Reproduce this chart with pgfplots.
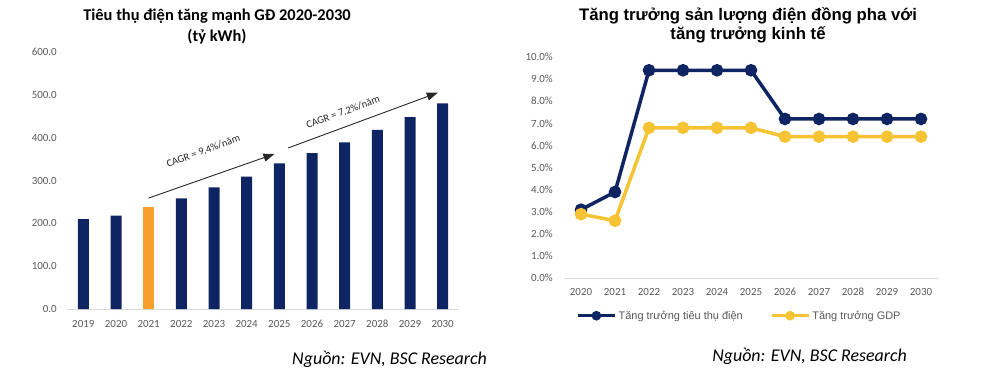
\documentclass[border=0pt]{standalone}
\usepackage{fontspec}
\setmainfont{Carlito}
\newfontfamily\arial{Liberation Sans}
\usepackage{pgfplots}
\pgfplotsset{compat=1.18}
\usetikzlibrary{arrows.meta}
\definecolor{navy}{HTML}{0F2463}
\definecolor{orng}{HTML}{F7A02B}
\definecolor{yell}{HTML}{F5C333}
\definecolor{tgray}{HTML}{595959}
\definecolor{lgray}{HTML}{D9D9D9}
\begin{document}
\begin{tikzpicture}[x=1bp,y=1bp]
\useasboundingbox (0,0) rectangle (1000,367);
% ---------------- Left chart ----------------
\begin{axis}[
  at={(67bp,58bp)}, anchor=south west, scale only axis,
  width=392bp, height=257bp,
  xmin=-0.5, xmax=11.5, ymin=0, ymax=600,
  axis x line*=bottom, axis y line*=left,
  x axis line style={draw=lgray, line width=1bp, -},
  y axis line style={draw=none},
  major tick length=0pt,
  xtick={0,...,11},
  xticklabels={2019,2020,2021,2022,2023,2024,2025,2026,2027,2028,2029,2030},
  ytick={0,100,...,600},
  yticklabel={\pgfmathprintnumber[fixed,fixed zerofill,precision=1]{\tick}},
  /pgf/number format/assume math mode=true,
  tick label style={font=\fontsize{11}{12}\selectfont, text=tgray},
  xticklabel style={anchor=base, yshift=-18.5bp, inner sep=0pt},
  yticklabel style={anchor=east, xshift=-10bp, inner sep=0pt},
  ybar, bar width=11bp, bar shift=0pt,
  clip=false,
]
\addplot[fill=navy, draw=none] coordinates {
  (0,210) (1,218) (3,258) (4,284) (5,309) (6,340) (7,364) (8,389) (9,418) (10,448) (11,480)};
\addplot[fill=orng, draw=none] coordinates {(2,238)};
\draw[-{Triangle[length=11bp,width=8bp]}, line width=0.9bp, black!85]
  (axis cs:2,259) -- (axis cs:5.85,362);
\draw[-{Triangle[length=11bp,width=8bp]}, line width=0.9bp, black!85]
  (axis cs:6.27,376) -- (axis cs:10.85,505);
\node[rotate=20, font=\fontsize{10.5}{12}\selectfont, text=black!85, inner sep=0pt]
  at (axis cs:3.67,369) {CAGR = 9.4\%/năm};
\node[rotate=20, font=\fontsize{10.5}{12}\selectfont, text=black!85, inner sep=0pt]
  at (axis cs:7.95,460) {CAGR = 7.2\%/năm};
\end{axis}
\node[font=\bfseries\fontsize{16.5}{21}\selectfont, align=center] at (217,340.5)
  {Tiêu thụ điện tăng mạnh GĐ 2020-2030\\(tỷ kWh)};
\node[font=\itshape\fontsize{18}{20}\selectfont] at (389.5,8) {Nguồn: EVN, BSC Research};
% ---------------- Right chart ----------------
\begin{axis}[
  at={(564bp,88.7bp)}, anchor=south west, scale only axis,
  width=374bp, height=221.3bp,
  xmin=-0.5, xmax=10.5, ymin=0, ymax=10,
  axis x line*=bottom, axis y line*=left,
  x axis line style={draw=lgray, line width=1bp, -},
  y axis line style={draw=none},
  major tick length=0pt,
  xtick={0,...,10},
  xticklabels={2020,2021,2022,2023,2024,2025,2026,2027,2028,2029,2030},
  ytick={0,1,...,10},
  yticklabel={\pgfmathprintnumber[fixed,fixed zerofill,precision=1]{\tick}\%},
  /pgf/number format/assume math mode=true,
  tick label style={font=\fontsize{11}{12}\selectfont, text=tgray},
  xticklabel style={anchor=base, yshift=-17.5bp, inner sep=0pt},
  yticklabel style={anchor=east, xshift=-11bp, inner sep=0pt},
  clip=false,
  legend columns=2,
  legend style={at={(0.032,-0.169)}, anchor=west, draw=none, fill=none, inner sep=0pt,
    font=\arial\fontsize{11}{12}\selectfont, text=tgray,
    /tikz/every even column/.append style={column sep=25bp}},
  legend cell align=left,
  legend image code/.code={
    \draw[#1, mark repeat=2, mark phase=2, mark size=3bp] plot coordinates {(0bp,0bp) (18.5bp,0bp) (37bp,0bp)};},
]
\addplot[navy, line width=3.5bp, mark=*, mark size=4.5bp, mark options={fill=navy}] coordinates {
  (0,3.1) (1,3.9) (2,9.4) (3,9.4) (4,9.4) (5,9.4) (6,7.2) (7,7.2) (8,7.2) (9,7.2) (10,7.2)};
\addlegendentry{Tăng trưởng tiêu thụ điện}
\addplot[yell, line width=3.5bp, mark=*, mark size=4.5bp, mark options={fill=yell}] coordinates {
  (0,2.9) (1,2.6) (2,6.8) (3,6.8) (4,6.8) (5,6.8) (6,6.4) (7,6.4) (8,6.4) (9,6.4) (10,6.4)};
\addlegendentry{Tăng trưởng GDP}
\end{axis}
\node[font=\arial\bfseries\fontsize{16.8}{19}\selectfont, align=center] at (748,341.5)
  {Tăng trưởng sản lượng điện đồng pha với\\tăng trưởng kinh tế};
\node[font=\itshape\fontsize{18}{20}\selectfont] at (809.5,11) {Nguồn: EVN, BSC Research};
\end{tikzpicture}
\end{document}
